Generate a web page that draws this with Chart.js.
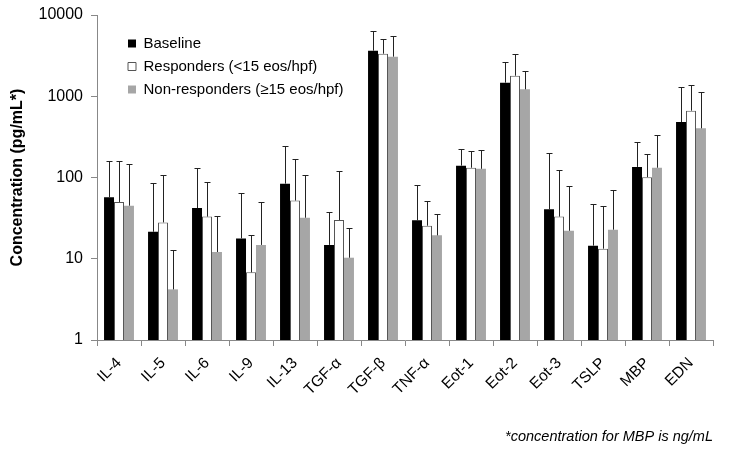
<!DOCTYPE html>
<html>
<head>
<meta charset="utf-8">
<script src="https://cdn.jsdelivr.net/npm/chart.js@4.4.1/dist/chart.umd.min.js"></script>
<style>
html, body { margin: 0; padding: 0; background: #fff; }
#wrap { width: 737px; height: 452px; }
</style>
</head>
<body>
<div id="wrap"><canvas id="bar-chart"></canvas></div>
<script>
var markers = ['IL-4', 'IL-5', 'IL-6', 'IL-9', 'IL-13', 'TGF-\u03b1', 'TGF-\u03b2',
       'TNF-\u03b1', 'Eot-1', 'Eot-2', 'Eot-3', 'TSLP', 'MBP', 'EDN'];

var baseline    = [57, 21.5, 42, 17.8, 84, 14.8, 3640, 29.7, 140, 1470, 40.6, 14.5, 135, 482];
var baselineTop = [158, 86, 130, 64, 246, 37.6, 6300, 82, 224, 2620, 200, 47.6, 271, 1300];

var responders    = [50, 28, 33, 6.8, 52, 30, 3340, 25.5, 132, 1790, 33, 13.3, 101, 664];
var respondersTop = [158, 106, 87, 19.4, 168, 119, 5070, 52, 214, 3280, 124, 44, 193, 1387];

var nonResponders    = [45, 4.2, 12.1, 14.8, 32, 10.3, 3070, 19.4, 128, 1217, 22.1, 22.8, 132, 403];
var nonRespondersTop = [145, 12.7, 33.3, 49.5, 106, 23.7, 5560, 35.9, 216, 2030, 79, 70.8, 336, 1118];

var yTicks = [1, 10, 100, 1000, 10000];

var errTops = [baselineTop, respondersTop, nonRespondersTop];

// upper error bars, drawn through the y scale
var errorBars = {
  id: 'errorBars',
  afterDatasetsDraw: function(chart) {
    var ctx = chart.ctx;
    var y = chart.scales.y;
    for (var d = 0; d < chart.data.datasets.length; d++) {
      var meta = chart.getDatasetMeta(d);
      for (var i = 0; i < meta.data.length; i++) {
        var bar = meta.data[i];
        var x = Math.round(bar.x) + 0.5;
        var top = Math.round(y.getPixelForValue(errTops[d][i])) + 0.5;
        ctx.save();
        ctx.strokeStyle = '#222';
        ctx.lineWidth = 1;
        ctx.beginPath();
        ctx.moveTo(x, bar.y);
        ctx.lineTo(x, top);
        ctx.moveTo(x - 3, top);
        ctx.lineTo(x + 3, top);
        ctx.stroke();
        ctx.restore();
      }
    }
  }
};

// put the legend inside the plot, upper left
var legendInside = {
  id: 'legendInside',
  afterLayout: function(chart) {
    var lg = chart.legend;
    var w = lg.right - lg.left, h = lg.bottom - lg.top;
    lg.left = chart.chartArea.left + 23;
    lg.top = 28;
    lg.right = lg.left + w;
    lg.bottom = lg.top + h;
  }
};

new Chart(document.getElementById('bar-chart'), {
  type: 'bar',
  data: {
    labels: markers,
    datasets: [
      { label: 'Baseline', data: baseline, backgroundColor: '#000', borderColor: '#000', borderWidth: 0 },
      { label: 'Responders (<15 eos/hpf)', data: responders, backgroundColor: '#fff', borderColor: '#555', borderWidth: 1 },
      { label: 'Non-responders (\u226515 eos/hpf)', data: nonResponders, backgroundColor: '#a6a6a6', borderColor: '#a6a6a6', borderWidth: 0 }
    ]
  },
  options: {
    responsive: true,
    maintainAspectRatio: false,
    animation: false,
    layout: { padding: { top: 15, right: 24, bottom: 2, left: 0 } },
    datasets: { bar: { categoryPercentage: 0.68, barPercentage: 1.0 } },
    scales: {
      x: {
        grid: { drawOnChartArea: false, tickLength: 6, color: '#888' },
        border: { color: '#888' },
        ticks: { maxRotation: 45, minRotation: 45, padding: 8, color: '#000', font: { family: 'Liberation Sans', size: 15.5 } },
        afterFit: function(s) { s.height = 88.6; }
      },
      y: {
        type: 'logarithmic',
        min: 1,
        max: 10000,
        afterBuildTicks: function(axis) {
          axis.ticks = yTicks.map(function(v) { return { value: v }; });
        },
        grid: { drawOnChartArea: false, tickLength: 6, color: '#888' },
        border: { color: '#888' },
        ticks: {
          color: '#000',
          padding: 8,
          font: { family: 'Liberation Sans', size: 16, lineHeight: 0.85 },
          callback: function(v) { return String(v); }
        },
        title: {
          display: true,
          text: 'Concentration (pg/mL*)',
          color: '#000',
          font: { family: 'Liberation Sans', size: 16, weight: 'bold' },
          padding: { top: 8, bottom: 4 }
        },
        afterFit: function(s) { s.width = 97; }
      }
    },
    plugins: {
      legend: {
        position: 'chartArea',
        align: 'start',
        labels: {
          boxWidth: 8,
          boxHeight: 8,
          color: '#000',
          padding: 8,
          font: { family: 'Liberation Sans', size: 15 }
        }
      },
      subtitle: {
        display: true,
        text: '*concentration for MBP is ng/mL',
        position: 'bottom',
        align: 'end',
        color: '#000',
        font: { family: 'Liberation Sans', size: 14.5, style: 'italic' },
        padding: { top: 0, bottom: 4 }
      },
      tooltip: { enabled: false }
    }
  },
  plugins: [errorBars, legendInside]
});
</script>
</body>
</html>
